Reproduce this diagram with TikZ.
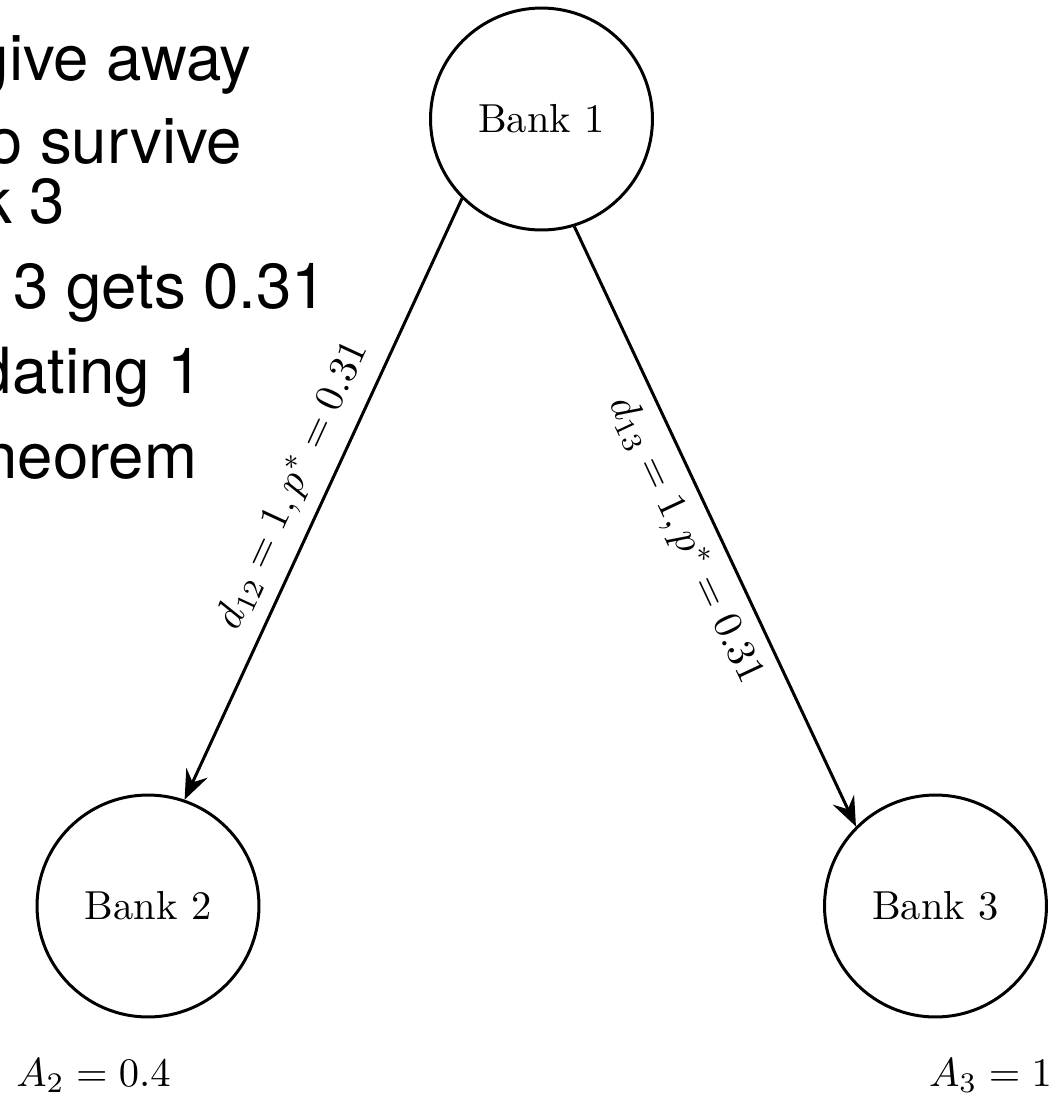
\documentclass[tikz,border=0pt]{standalone}
\usepackage{fontspec}
\newfontfamily\helv{TeX Gyre Heros}
\usetikzlibrary{arrows.meta}
\begin{document}
\begin{tikzpicture}[x=0.2469pt,y=-0.2469pt,
  bank/.style={circle,draw,line width=0.74pt,minimum size=54.8pt,inner sep=0pt,font=\fontsize{10}{12}\selectfont},
  link/.style={line width=0.74pt,-{Stealth[length=7.3pt,width=5.8pt,inset=2.6pt]}},
  elabel/.style={sloped,font=\fontsize{10}{12}\selectfont,inner sep=3.3pt},
  slide/.style={anchor=base east,inner sep=0pt,font=\helv\fontsize{15.7}{19}\selectfont},
  assets/.style={anchor=base,inner sep=0pt,font=\fontsize{10}{12}\selectfont}]
\useasboundingbox (0,0) rectangle (1064,1093);
\clip (0,0) rectangle (1064,1093);
\node[slide] (t1) at (252.5,80) {give away};
\node[slide] (t2) at (243,163) {to survive};
\node[slide] (t3) at (66,223) {bank 3};
\node[slide] (t4) at (328,308) {Bank 3 gets 0.31};
\node[slide] (t5) at (204,393) {liquidating 1};
\node[slide] (t6) at (198,478) {theorem};
\node[bank] (b1) at (541.5,119) {Bank 1};
\node[bank] (b2) at (148,906) {Bank 2};
\node[bank] (b3) at (935.5,906) {Bank 3};
\draw[link] (b1.225) -- node[elabel,above] {$d_{12}=1, p^*=0.31$} (b2.71);
\draw[link] (b1.287) -- node[elabel,below] {$d_{13}=1, p^*=0.31$} (b3.135);
\node[assets] (a2) at (93.5,1086) {$A_2=0.4$};
\node[assets] (a3) at (990.5,1086) {$A_3=1$};
\end{tikzpicture}
\end{document}
